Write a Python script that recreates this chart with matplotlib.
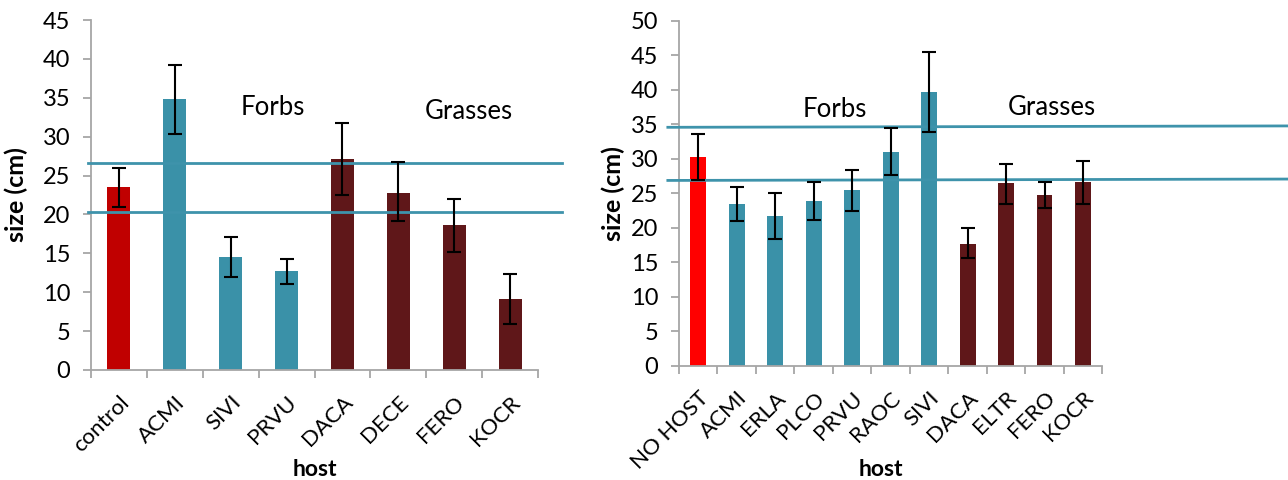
import matplotlib
matplotlib.use("Agg")
import matplotlib.pyplot as plt
import matplotlib.transforms as mtrans
import numpy as np

plt.rcParams['font.family'] = ['Lato', 'DejaVu Sans']

# ---- data: left panel ----
left_hosts = ["control", "ACMI", "SIVI", "PRVU", "DACA", "DECE", "FERO", "KOCR"]
left_size = [23.5, 34.8, 14.5, 12.7, 27.1, 22.8, 18.6, 9.1]
left_err_hi = [26.0, 39.2, 17.05, 14.3, 31.7, 26.8, 22.0, 12.4]
left_err_lo = [20.9, 30.4, 11.9, 11.1, 22.5, 19.2, 15.2, 5.9]
left_group = ["control", "forb", "forb", "forb", "grass", "grass", "grass", "grass"]
left_hlines = [26.6, 20.35]

# ---- data: right panel ----
right_hosts = ["NO HOST", "ACMI", "ERLA", "PLCO", "PRVU", "RAOC", "SIVI",
               "DACA", "ELTR", "FERO", "KOCR"]
right_size = [30.25, 23.4, 21.65, 23.87, 25.4, 31.0, 39.7, 17.7, 26.5, 24.7, 26.6]
right_err_hi = [33.6, 25.9, 25.07, 26.57, 28.36, 34.4, 45.4, 19.9, 29.3, 26.6, 29.7]
right_err_lo = [26.96, 20.97, 18.36, 21.16, 22.46, 27.6, 33.9, 15.6, 23.4, 22.9, 23.5]
right_group = ["nohost", "forb", "forb", "forb", "forb", "forb", "forb",
               "grass", "grass", "grass", "grass"]
right_hlines = [(34.55, 34.75), (26.85, 27.05)]

colors = {"control": "#C00000", "nohost": "#FF0000",
          "forb": "#3A91A8", "grass": "#5F1719"}
line_color = "#3E93AB"
spine_color = "#A6A6A6"

W, H = 1288, 480
fig = plt.figure(figsize=(W / 100, H / 100), dpi=100)

def make_axes(x0, x1, ytop, ybot):
    return fig.add_axes([x0 / W, (H - ybot) / H, (x1 - x0) / W, (ybot - ytop) / H])

axL = make_axes(91, 538, 20, 370)
axR = make_axes(679, 1102.3, 20.7, 365.7)

def draw(ax, hosts, vals, hi, lo, groups, ymax):
    x = np.arange(len(hosts))
    vals = np.array(vals)
    yerr = np.array([vals - np.array(lo), np.array(hi) - vals])
    ax.bar(x, vals, width=0.41, color=[colors[g] for g in groups], zorder=2)
    ax.errorbar(x, vals, yerr=yerr, fmt='none', ecolor='black', elinewidth=1.5,
                capsize=5, capthick=1.5, zorder=4)
    ax.set_xlim(-0.5, len(hosts) - 0.5)
    ax.set_ylim(0, ymax)
    ax.set_yticks(np.arange(0, ymax + 1, 5))
    ax.set_xticks(x)
    ax.set_xticklabels(hosts, rotation=45, ha='right', va='top',
                       rotation_mode='anchor', fontsize=16)
    off = mtrans.ScaledTranslation(4 / 100, 0, fig.dpi_scale_trans)
    for lab in ax.get_xticklabels():
        lab.set_transform(lab.get_transform() + off)
    ax.set_xticks(np.arange(-0.5, len(hosts) + 0.5, 1), minor=True)
    ax.tick_params(axis='x', which='major', length=0, pad=16)
    ax.tick_params(axis='x', which='minor', length=6, color=spine_color, width=1.3)
    ax.tick_params(axis='y', length=6, color=spine_color, width=1.3, labelsize=17, pad=9)
    for s in ['top', 'right']:
        ax.spines[s].set_visible(False)
    for s in ['left', 'bottom']:
        ax.spines[s].set_color(spine_color)
        ax.spines[s].set_linewidth(1.3)
    ax.set_xlabel("host", fontsize=16.5, fontweight='bold')
    ax.set_ylabel("size (cm)", fontsize=18, fontweight='bold')

draw(axL, left_hosts, left_size, left_err_hi, left_err_lo, left_group, 45)
draw(axR, right_hosts, right_size, right_err_hi, right_err_lo, right_group, 50)

# reference lines (extend past the axes)
for v in left_hlines:
    axL.plot([-0.55, 7.93], [v, v], color=line_color, lw=2, clip_on=False, zorder=3)
for a, b in right_hlines:
    axR.plot([-0.79, 15.3], [a, b], color=line_color, lw=2, clip_on=False, zorder=3)

axL.text(2.75, 33.7, "Forbs", fontsize=18.5, ha='center', va='center')
axL.text(6.27, 33.2, "Grasses", fontsize=18.5, ha='center', va='center')
axR.text(3.56, 37.1, "Forbs", fontsize=18.5, ha='center', va='center')
axR.text(9.2, 37.4, "Grasses", fontsize=18.5, ha='center', va='center')

axL.yaxis.set_label_coords(-0.141, 0.5)
axR.yaxis.set_label_coords(-0.127, 0.5)
axL.xaxis.set_label_coords(0.5, -0.255)
axR.xaxis.set_label_coords(0.477, -0.27)

fig.savefig("out.png", dpi=100)
